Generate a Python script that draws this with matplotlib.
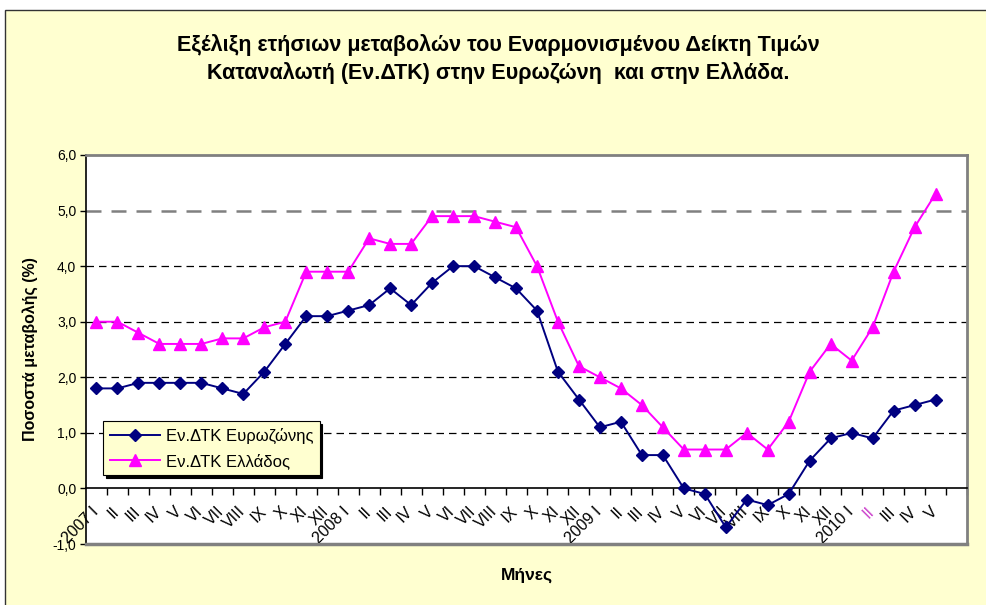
import numpy as np
import matplotlib
matplotlib.use('Agg')
import matplotlib.pyplot as plt
from matplotlib.patches import Rectangle
from matplotlib.transforms import ScaledTranslation

plt.rcParams['font.family'] = ['Liberation Sans', 'DejaVu Sans']

# month labels (category axis)
months = ['2007 I', 'II', 'III', 'IV', 'V', 'VI', 'VII', 'VIII', 'IX', 'X', 'XI', 'XII',
          '2008 I', 'II', 'III', 'IV', 'V', 'VI', 'VII', 'VIII', 'IX', 'X', 'XI', 'XII',
          '2009 I', 'II', 'III', 'IV', 'V', 'VI', 'VII', 'VIII', 'IX', 'X', 'XI', 'XII',
          '2010 I', 'II', 'III', 'IV', 'V']

# annual change of HICP (%)
euro = [1.8, 1.8, 1.9, 1.9, 1.9, 1.9, 1.8, 1.7, 2.1, 2.6, 3.1, 3.1,
        3.2, 3.3, 3.6, 3.3, 3.7, 4.0, 4.0, 3.8, 3.6, 3.2, 2.1, 1.6,
        1.1, 1.2, 0.6, 0.6, 0.0, -0.1, -0.7, -0.2, -0.3, -0.1, 0.5, 0.9,
        1.0, 0.9, 1.4, 1.5, 1.6]
greece = [3.0, 3.0, 2.8, 2.6, 2.6, 2.6, 2.7, 2.7, 2.9, 3.0, 3.9, 3.9,
          3.9, 4.5, 4.4, 4.4, 4.9, 4.9, 4.9, 4.8, 4.7, 4.0, 3.0, 2.2,
          2.0, 1.8, 1.5, 1.1, 0.7, 0.7, 0.7, 1.0, 0.7, 1.2, 2.1, 2.6,
          2.3, 2.9, 3.9, 4.7, 5.3]
yticks = [-1, 0, 1, 2, 3, 4, 5, 6]

W, H = 986, 605
fig = plt.figure(figsize=(W / 100, H / 100), dpi=100, facecolor='white')

# yellow chart area with thin frame
fig.patches.append(Rectangle((5 / W, -0.1), 1.2, 1 - 10 / H + 0.1, transform=fig.transFigure,
                             facecolor='#ffffd0', edgecolor='#333333', lw=1, zorder=-10))

ax = fig.add_axes([86 / W, 1 - 544 / H, (967 - 86) / W, (544 - 155) / H])
ax.set_facecolor('white')

x = np.arange(len(months))
ax.plot(x, euro, color='#000080', marker='D', markersize=6.5, lw=1.4,
        label='Εν.ΔΤΚ Ευρωζώνης', zorder=5)
ax.plot(x, greece, color='#ff00ff', marker='^', markersize=8, lw=1.4,
        label='Εν.ΔΤΚ Ελλάδος', zorder=4)

ax.set_xlim(-0.5, len(months) + 0.5)
ax.set_ylim(-1, 6)

# y axis
ax.set_yticks(yticks)
ax.set_yticklabels([f'{v:.1f}'.replace('.', ',') for v in yticks], fontsize=10)
ax.tick_params(axis='y', direction='out', length=4, width=1, pad=3)
ax.yaxis.grid(True, color='black', ls=(0, (6, 4)), lw=0.9)
for v, gl in zip(yticks, ax.get_ygridlines()):
    if v == 5:
        gl.set_color('#808080')
        gl.set_linewidth(1.8)
    elif v in (-1, 0, 6):
        gl.set_visible(False)

# x axis crosses at 0, ticks between categories
ax.spines['bottom'].set_position(('data', 0))
ax.spines['bottom'].set_linewidth(1.2)
ax.spines['left'].set_linewidth(1.2)
for s in ('top', 'right'):
    ax.spines[s].set_color('#808080')
    ax.spines[s].set_linewidth(2)
ax.axhline(-1, color='#808080', lw=2.5, zorder=6, clip_on=False)

ax.set_xticks(x)
ax.set_xticklabels(months, rotation=45, ha='right', va='top', rotation_mode='anchor', fontsize=11.5)
ax.set_xticks(np.arange(0.5, len(months) + 1, 1), minor=True)
ax.tick_params(axis='x', which='major', length=0, pad=11)
ax.tick_params(axis='x', which='minor', direction='out', length=5, width=1)
shift = ScaledTranslation(-0.06, 0, fig.dpi_scale_trans)
for lbl in ax.get_xticklabels():
    lbl.set_transform(lbl.get_transform() + shift)
ax.get_xticklabels()[37].set_color('#cc44cc')

ax.set_ylabel('Ποσοστά μεταβολής (%)', fontsize=11.5, fontweight='bold')
ax.yaxis.set_label_coords((38 - 86) / 881, 0.5)
fig.text(527 / W, 1 - 575 / H, 'Μήνες', ha='center', va='center', fontsize=12.5, fontweight='bold')

fig.text(498 / W, 1 - 59 / H,
         'Εξέλιξη ετήσιων μεταβολών του Εναρμονισμένου Δείκτη Τιμών\n'
         'Καταναλωτή (Εν.ΔΤΚ) στην Ευρωζώνη  και στην Ελλάδα.',
         ha='center', va='center', fontsize=15.5, fontweight='bold', linespacing=1.4)

leg = ax.legend(loc='upper left', bbox_to_anchor=(103 / W, 1 - 421 / H), bbox_transform=fig.transFigure,
                borderaxespad=0, fancybox=False, framealpha=1, edgecolor='black',
                facecolor='#ffffd0', fontsize=12, handlelength=3.0, handletextpad=0.35,
                labelspacing=0.55, borderpad=0.4, shadow={'color': 'black', 'alpha': 1})
leg.get_frame().set_linewidth(0.8)

fig.savefig('out.png', dpi=100, facecolor=fig.get_facecolor())
